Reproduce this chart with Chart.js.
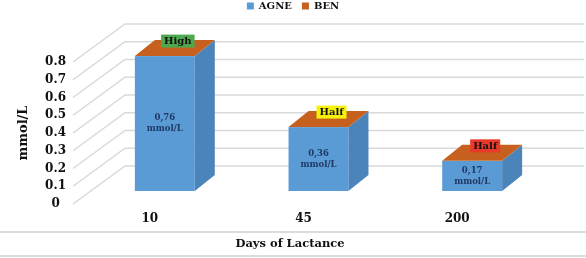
<!DOCTYPE html>
<html>
<head>
<meta charset="utf-8">
<script src="https://cdn.jsdelivr.net/npm/chart.js@4.4.1/dist/chart.umd.min.js"></script>
<style>
  html, body { margin: 0; padding: 0; background: #fff; }
  #wrap { width: 586px; height: 258px; }
</style>
</head>
<body>
<div id="wrap"><canvas id="c"></canvas></div>
<script>
// data
const days = ['10', '45', '200'];
const agne = [0.76, 0.36, 0.17];
const ben = [0, 0, 0];
const levelText = ['High', 'Half', 'Half'];
const levelColors = ['#4EA84E', '#F5F00C', '#E8392B'];
const xTitle = 'Days of Lactance';

const FONT = 'DejaVu Serif';
const BLUE = '#5B9BD5';
const BLUE_SIDE = '#4A84BA';
const ORANGE = '#C5601E';

// 3D offsets (label plane -> bar front, bar depth, back wall)
const FRONT = { dx: 15, dy: -13 };
const DEPTH = { dx: 20, dy: -16 };
const WALL = { dx: 52, dy: -38 };

function poly(ctx, pts, color) {
  ctx.beginPath();
  ctx.moveTo(pts[0][0], pts[0][1]);
  for (let i = 1; i < pts.length; i++) ctx.lineTo(pts[i][0], pts[i][1]);
  ctx.closePath();
  ctx.fillStyle = color;
  ctx.fill();
}

const box3d = {
  id: 'box3d',
  beforeDatasetsDraw(chart) {
    const { ctx, chartArea, scales: { y } } = chart;
    ctx.save();

    // back wall grid
    ctx.strokeStyle = '#D9D9D9';
    ctx.lineWidth = 1.5;
    y.ticks.forEach(t => {
      const py = y.getPixelForValue(t.value);
      ctx.beginPath();
      ctx.moveTo(chartArea.left, py);
      ctx.lineTo(chartArea.left + WALL.dx, py + WALL.dy);
      ctx.lineTo(chart.width - 2, py + WALL.dy);
      ctx.stroke();
    });

    // boxes: AGNE front/side, BEN colour on the top face
    const a = chart.getDatasetMeta(0).data;
    const b = chart.getDatasetMeta(1).data;
    a.forEach((bar, i) => {
      const w = bar.width;
      const x0 = bar.x - w / 2 + FRONT.dx, x1 = x0 + w;
      const yb = bar.base + FRONT.dy, yt = b[i].y + FRONT.dy;
      ctx.fillStyle = chart.data.datasets[0].backgroundColor;
      ctx.fillRect(x0, yt, w, yb - yt);
      poly(ctx, [[x1, yt], [x1 + DEPTH.dx, yt + DEPTH.dy], [x1 + DEPTH.dx, yb + DEPTH.dy], [x1, yb]], BLUE_SIDE);
      poly(ctx, [[x0, yt], [x0 + DEPTH.dx, yt + DEPTH.dy], [x1 + DEPTH.dx, yt + DEPTH.dy], [x1, yt]],
        chart.data.datasets[1].backgroundColor);
    });

    ctx.restore();
    return false;  // native bars not drawn
  },
  afterDraw(chart) {
    const { ctx, scales: { x } } = chart;
    const a = chart.getDatasetMeta(0).data;
    const b = chart.getDatasetMeta(1).data;
    ctx.save();
    ctx.textAlign = 'center';
    ctx.textBaseline = 'middle';

    a.forEach((bar, i) => {
      const cx = bar.x + FRONT.dx;
      const yt = b[i].y + FRONT.dy, yb = bar.base + FRONT.dy;
      const mid = (yt + yb) / 2;

      // value label
      ctx.font = `bold 8.5px "${FONT}"`;
      ctx.fillStyle = '#1F3864';
      ctx.fillText(agne[i].toFixed(2).replace('.', ','), cx, mid - 5.5);
      ctx.fillText('mmol/L', cx, mid + 5.5);

      // level tag on the top face
      ctx.font = `bold 10px "${FONT}"`;
      const tw = ctx.measureText(levelText[i]).width + 6;
      const tx = cx + 13, ty = yt - 15;
      ctx.fillStyle = levelColors[i];
      ctx.fillRect(tx - tw / 2, ty - 6.5, tw, 13);
      ctx.fillStyle = '#111111';
      ctx.fillText(levelText[i], tx, ty + 0.5);
    });

    // table-like lines and axis title
    ctx.strokeStyle = '#D0D0D0';
    ctx.lineWidth = 1.5;
    [x.bottom - 26, x.bottom - 2].forEach(py => {
      ctx.beginPath();
      ctx.moveTo(0, py);
      ctx.lineTo(chart.width, py);
      ctx.stroke();
    });
    ctx.font = `bold 11.5px "${FONT}"`;
    ctx.fillStyle = '#111111';
    ctx.fillText(xTitle, chart.width / 2 - 3, x.bottom - 14);
    ctx.restore();
  }
};

new Chart(document.getElementById('c'), {
  type: 'bar',
  data: {
    labels: days,
    datasets: [
      { label: 'AGNE', data: agne, backgroundColor: BLUE, barPercentage: 0.39, categoryPercentage: 1 },
      { label: 'BEN', data: ben, backgroundColor: ORANGE, barPercentage: 0.39, categoryPercentage: 1 }
    ]
  },
  options: {
    responsive: true,
    maintainAspectRatio: false,
    animation: false,
    layout: { padding: { top: -9, right: 0, left: 0, bottom: 0 } },
    plugins: {
      legend: {
        position: 'top',
        weight: 3000,
        labels: {
          boxWidth: 7,
          boxHeight: 7,
          padding: 10,
          color: '#111111',
          font: { family: FONT, size: 10, weight: 'bold' }
        }
      },
      title: {
        display: true,
        text: ' ',
        font: { size: 1, lineHeight: 1 },
        padding: { top: 0, bottom: 40 }
      },
      tooltip: { enabled: false }
    },
    scales: {
      x: {
        stacked: true,
        grid: { display: false, drawTicks: false },
        border: { display: false },
        ticks: {
          padding: 8,
          color: '#111111',
          font: { family: FONT, size: 12, weight: 'bold' }
        },
        afterFit: (scale) => { scale.height = 54; }
      },
      y: {
        stacked: true,
        min: 0,
        max: 0.8,
        grid: { display: false, drawTicks: false },
        border: { display: false },
        ticks: {
          stepSize: 0.1,
          padding: 7,
          crossAlign: 'center',
          color: '#111111',
          font: { family: FONT, size: 12, weight: 'bold' }
        },
        title: {
          display: true,
          text: 'mmol/L',
          color: '#111111',
          font: { family: FONT, size: 13, weight: 'bold' },
          padding: { top: 16, bottom: 0 }
        },
        afterFit: (scale) => { scale.width = 73; }
      },
      // empty right-hand space keeps the plot narrower than the legend row
      yRight: {
        position: 'right',
        display: true,
        grid: { display: false, drawTicks: false },
        border: { display: false },
        ticks: { display: false },
        afterFit: (scale) => { scale.width = 52; }
      }
    }
  },
  plugins: [box3d]
});
</script>
</body>
</html>
